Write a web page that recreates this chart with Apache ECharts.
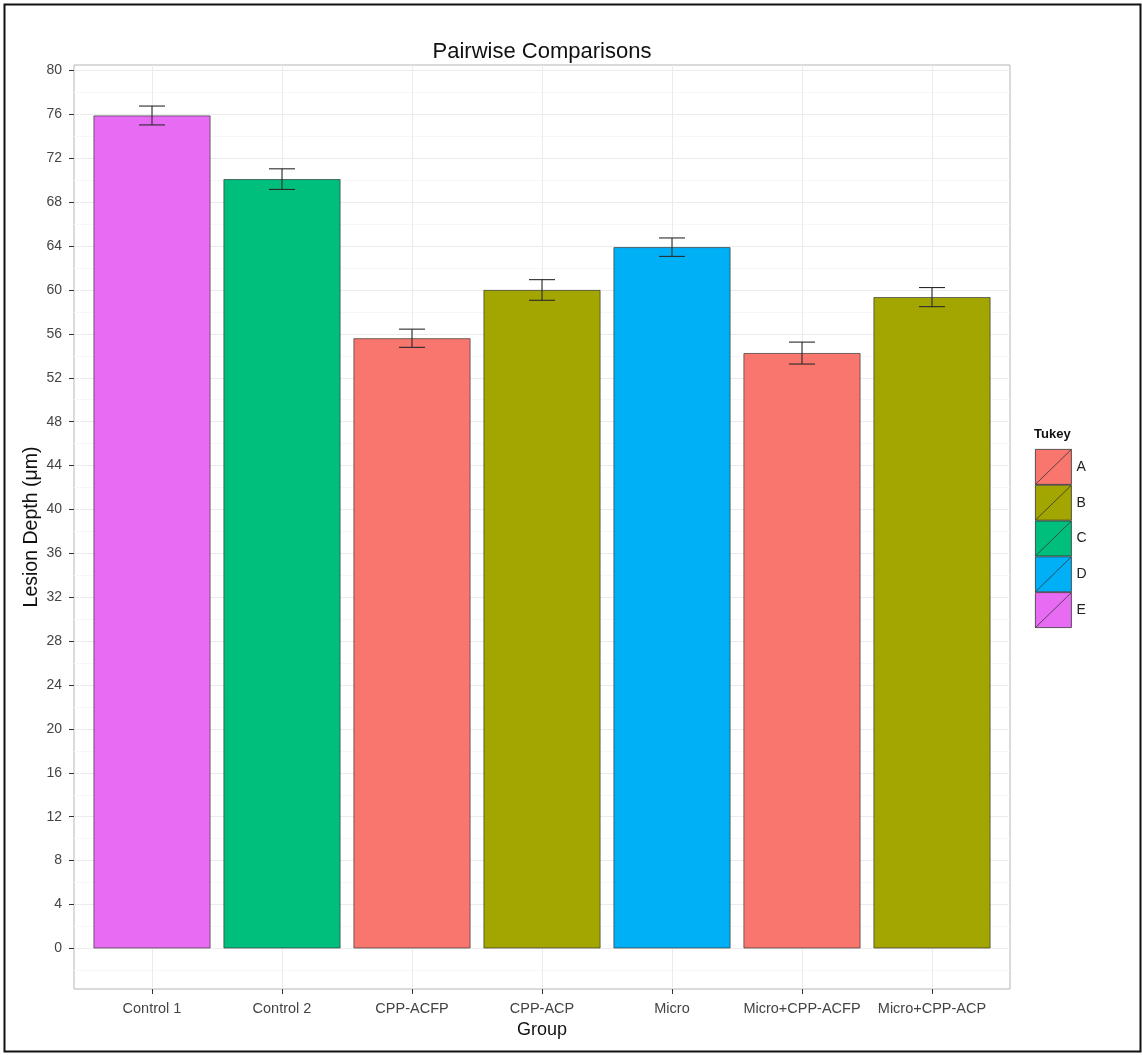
<!DOCTYPE html>
<html>
<head>
<meta charset="utf-8">
<title>Pairwise Comparisons</title>
<script src="https://cdn.jsdelivr.net/npm/echarts@6/dist/echarts.min.js"></script>
<style>
  html, body { margin: 0; padding: 0; background: #fff; }
  #chart { width: 1142px; height: 1055px; }
</style>
</head>
<body>
<div id="chart"></div>
<script>
// Treatment groups along the x axis
const categories = ['Control 1', 'Control 2', 'CPP-ACFP', 'CPP-ACP', 'Micro', 'Micro+CPP-ACFP', 'Micro+CPP-ACP'];
// Mean lesion depth (µm) per group
const meanDepth = [75.9, 70.1, 55.6, 60.0, 63.9, 54.25, 59.35];
// Half-width of the error bar per group
const errDepth = [0.86, 0.94, 0.83, 0.94, 0.84, 1.0, 0.87];
// Tukey letter assigned to each group
const tukeyGroup = ['E', 'C', 'A', 'B', 'D', 'A', 'B'];
// Legend entries
const tukeyLetters = ['A', 'B', 'C', 'D', 'E'];
// Y tick labels (major) and the light in-between grid lines
const yTicks = [0, 4, 8, 12, 16, 20, 24, 28, 32, 36, 40, 44, 48, 52, 56, 60, 64, 68, 72, 76, 80];
const yGrid = [-2, 0, 2, 4, 6, 8, 10, 12, 14, 16, 18, 20, 22, 24, 26, 28, 30, 32, 34, 36, 38, 40,
               42, 44, 46, 48, 50, 52, 54, 56, 58, 60, 62, 64, 66, 68, 70, 72, 74, 76, 78, 80];

const palette = { A: '#F8766D', B: '#A3A500', C: '#00BF7D', D: '#00B0F6', E: '#E76BF3' };
const FONT = 'Liberation Sans, Arial, sans-serif';
const Y_MIN = -3.7, Y_MAX = 80.5;
const X_MIN = -0.6, X_MAX = categories.length - 1 + 0.6;
const catIndex = categories.map((_, i) => i);

const barSeries = tukeyLetters.map(letter => ({
  name: letter,
  type: 'bar',
  xAxisIndex: 0,
  yAxisIndex: 0,
  barWidth: 117,
  barGap: '-100%',
  itemStyle: { color: palette[letter], borderColor: 'rgba(50,50,50,0.85)', borderWidth: 0.8 },
  emphasis: { disabled: true },
  data: catIndex.filter(i => tukeyGroup[i] === letter).map(i => [i, meanDepth[i]])
}));

const errorSeries = {
  type: 'custom',
  xAxisIndex: 0,
  yAxisIndex: 0,
  z: 5,
  silent: true,
  data: catIndex.map(i => [i, meanDepth[i] - errDepth[i], meanDepth[i] + errDepth[i]]),
  encode: { x: 0, y: [1, 2] },
  renderItem: function (params, api) {
    const x = api.value(0);
    const lo = api.value(1), hi = api.value(2);
    const pLo = api.coord([x, lo]);
    const pHi = api.coord([x, hi]);
    const left = api.coord([x - 0.1, lo])[0];
    const right = api.coord([x + 0.1, lo])[0];
    const style = { stroke: '#2a2a2a', lineWidth: 1.1 };
    return {
      type: 'group',
      children: [
        { type: 'line', shape: { x1: pLo[0], y1: pLo[1], x2: pHi[0], y2: pHi[1] }, style },
        { type: 'line', shape: { x1: left, y1: pHi[1], x2: right, y2: pHi[1] }, style },
        { type: 'line', shape: { x1: left, y1: pLo[1], x2: right, y2: pLo[1] }, style }
      ]
    };
  }
};

const chart = echarts.init(document.getElementById('chart'), null, { renderer: 'canvas' });
chart.setOption({
  backgroundColor: '#fff',
  animation: false,
  textStyle: { fontFamily: FONT },
  title: [{
    text: 'Pairwise Comparisons',
    left: 537,
    top: 36,
    textAlign: 'center',
    textStyle: { fontFamily: FONT, fontSize: 22, fontWeight: 'normal', color: '#111' }
  }, {
    text: 'Tukey',
    left: 1034,
    top: 428,
    padding: 0,
    textStyle: { fontFamily: FONT, fontSize: 13, fontWeight: 'bold', color: '#111' }
  }],
  legend: {
    orient: 'vertical',
    left: 1035,
    top: 449,
    padding: 0,
    itemGap: 0,
    itemWidth: 36,
    itemHeight: 35,
    selectedMode: false,
    icon: 'path://M0,0H36V35H0Z M0,35L36,0',
    itemStyle: { borderColor: '#333', borderWidth: 0.8 },
    textStyle: { fontFamily: FONT, fontSize: 14, color: '#222' },
    data: tukeyLetters
  },
  grid: {
    left: 74, right: 132, top: 65, bottom: 66,
    containLabel: false,
    show: true,
    borderColor: '#b5b5b5',
    borderWidth: 1,
    backgroundColor: 'transparent'
  },
  xAxis: {
    type: 'value',
    min: X_MIN,
    max: X_MAX,
    name: 'Group',
    nameLocation: 'middle',
    nameGap: 27,
    nameTextStyle: { fontFamily: FONT, fontSize: 18, color: '#111' },
    axisLine: { show: false, onZero: false },
    axisTick: { show: true, inside: false, length: 5, customValues: catIndex, lineStyle: { color: '#333' } },
    axisLabel: {
      customValues: catIndex,
      margin: 12,
      fontFamily: FONT,
      fontSize: 14.5,
      color: '#444',
      formatter: v => categories[Math.round(v)] || ''
    },
    splitLine: { show: true, lineStyle: { color: '#ebebeb', width: 1 } }
  },
  yAxis: [{
    type: 'value',
    min: Y_MIN,
    max: Y_MAX,
    axisLine: { show: false },
    axisTick: { show: false, customValues: yGrid },
    axisLabel: { show: false },
    splitLine: { show: true, lineStyle: { color: ['#f7f7f7', '#ebebeb'], width: 1 } }
  }, {
    type: 'value',
    position: 'left',
    min: Y_MIN,
    max: Y_MAX,
    name: 'Lesion Depth (\u03bcm)',
    nameLocation: 'middle',
    nameGap: 32,
    nameMoveOverlap: false,
    nameTextStyle: { fontFamily: FONT, fontSize: 19.5, color: '#111' },
    axisLine: { show: false, onZero: false },
    axisTick: { show: true, length: 5, customValues: yTicks, lineStyle: { color: '#333' } },
    axisLabel: { customValues: yTicks, margin: 12, fontFamily: FONT, fontSize: 14, color: '#444' },
    splitLine: { show: false }
  }],
  graphic: [{
    type: 'rect',
    silent: true,
    shape: { x: 4.5, y: 4.5, width: 1136, height: 1047 },
    style: { fill: 'none', stroke: '#111', lineWidth: 2 }
  }],
  series: barSeries.concat([errorSeries])
});
</script>
</body>
</html>
